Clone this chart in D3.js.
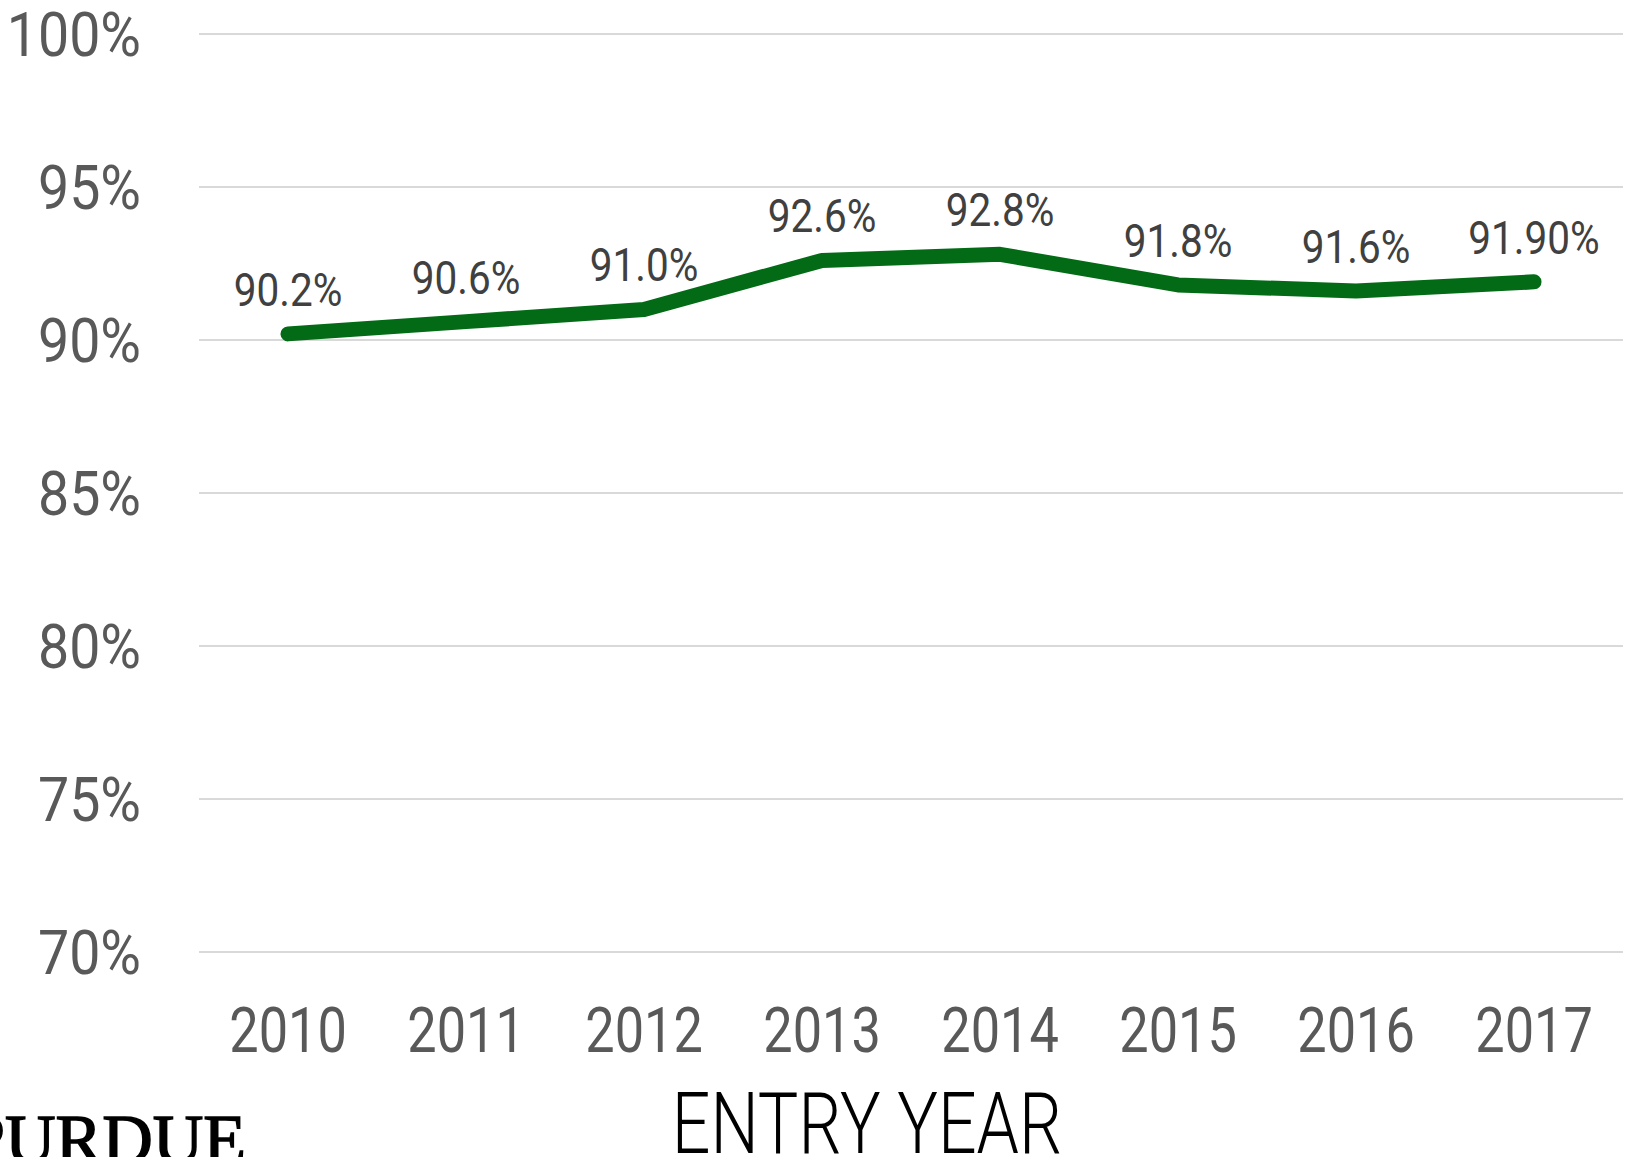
<!DOCTYPE html>
<html>
<head>
<meta charset="utf-8">
<script src="https://cdn.jsdelivr.net/npm/d3@7"></script>
<style>
  body { margin: 0; background: #fff; }
  svg { display: block; }
  text { font-family: Roboto, "DejaVu Sans Condensed", sans-serif; }
</style>
</head>
<body>
<div id="chart"></div>
<script>
var years = ["2010", "2011", "2012", "2013", "2014", "2015", "2016", "2017"];
var rates = [90.2, 90.6, 91.0, 92.6, 92.8, 91.8, 91.6, 91.9];
var rateLabels = ["90.2%", "90.6%", "91.0%", "92.6%", "92.8%", "91.8%", "91.6%", "91.90%"];
var yTicks = [70, 75, 80, 85, 90, 95, 100];

var W = 1626, H = 1157;
var margin = {top: 34, right: 3, bottom: 205, left: 199},
    width = W - margin.left - margin.right,
    height = H - margin.top - margin.bottom;

// the reference font is a condensed face, so squeeze Roboto sideways
var squeezeY = 0.91,
    squeezeX = 0.83,
    squeezeLabel = 0.88,
    squeezeTitle = 0.79;

var svg = d3.select("#chart")
  .append("svg")
  .attr("width", W)
  .attr("height", H)

var g = svg.append("g")
  .attr("transform", "translate(" + margin.left + "," + margin.top + ")");

var x = d3.scaleBand()
  .domain(years)
  .range([0, width]);

var y = d3.scaleLinear()
  .domain([70, 100])
  .range([height, 0]);

// gridlines
g.append("g")
  .selectAll("line")
  .data(yTicks)
  .enter()
  .append("line")
  .attr("x1", 0)
  .attr("x2", width)
  .attr("y1", function(d){ return y(d); })
  .attr("y2", function(d){ return y(d); })
  .attr("stroke", "#d9d9d9")
  .attr("stroke-width", 2);

// y axis
var yAxis = g.append("g")
  .attr("transform", "translate(-58,0)")
  .call(d3.axisLeft(y).tickValues(yTicks).tickSize(0).tickPadding(0).tickFormat(function(d){ return d + "%"; }));
yAxis.select(".domain").remove();
yAxis.selectAll("text")
  .attr("fill", "#595959")
  .attr("x", 0)
  .attr("dy", "0.35em")
  .attr("transform", "scale(" + squeezeY + ",1)")
  .style("font-family", "Roboto, sans-serif")
  .style("font-size", "61px");

// x axis
var xAxis = g.append("g")
  .attr("transform", "translate(0," + height + ")")
  .call(d3.axisBottom(x).tickSize(0).tickPadding(0));
xAxis.select(".domain").remove();
xAxis.selectAll("text")
  .attr("fill", "#595959")
  .attr("dy", null)
  .attr("y", 100)
  .attr("transform", "scale(" + squeezeX + ",1)")
  .style("font-family", "Roboto, sans-serif")
  .style("font-size", "63px");

// line
var line = d3.line()
  .x(function(d, i){ return x(years[i]) + x.bandwidth() / 2; })
  .y(function(d){ return y(d); });

g.append("path")
  .datum(rates)
  .attr("d", line)
  .attr("fill", "none")
  .attr("stroke", "#036b16")
  .attr("stroke-width", 15)
  .attr("stroke-linecap", "round")
  .attr("stroke-linejoin", "round");

// data labels
g.append("g")
  .selectAll("g")
  .data(rates)
  .enter()
  .append("g")
  .attr("transform", function(d, i){
    return "translate(" + (x(years[i]) + x.bandwidth() / 2) + "," + (y(d) - 28) + ")";
  })
  .append("text")
  .text(function(d, i){ return rateLabels[i]; })
  .attr("text-anchor", "middle")
  .attr("transform", "scale(" + squeezeLabel + ",1)")
  .attr("fill", "#404040")
  .style("font-size", "46px");

// axis title
svg.append("g")
  .attr("transform", "translate(867,1153)")
  .append("text")
  .text("ENTRY YEAR")
  .attr("text-anchor", "middle")
  .attr("transform", "scale(" + squeezeTitle + ",1)")
  .attr("fill", "#000")
  .style("font-weight", 300)
  .style("font-size", "86px");

// logo text, cut off at bottom
svg.append("text")
  .text("PURDUE")
  .attr("x", -34)
  .attr("y", 1163)
  .attr("fill", "#000")
  .attr("stroke", "#000")
  .attr("stroke-width", 1.5)
  .style("font-family", "'Liberation Serif', serif")
  .style("font-size", "70px");
</script>
</body>
</html>
